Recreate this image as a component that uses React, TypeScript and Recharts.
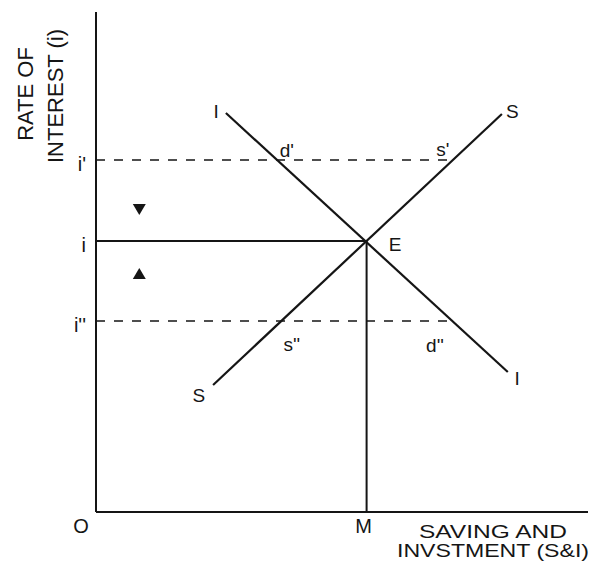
import React from 'react';
import { ComposedChart, Line, XAxis, YAxis, Scatter } from 'recharts';

const FONT = '"Liberation Sans", Arial, Helvetica, sans-serif';
const INK = '#151515';

// Schedules (chart units, 0-100 on both axes)
const investmentCurve = [
  { x: 26.4, y: 79.8 },
  { x: 83.7, y: 28.0 },
];
const savingCurve = [
  { x: 23.8, y: 25.4 },
  { x: 82.5, y: 79.6 },
];
const highRateLine = [
  { x: 0, y: 70.4 },
  { x: 72.5, y: 70.4 },
];
const equilibriumRateLine = [
  { x: 0, y: 54.2 },
  { x: 55, y: 54.2 },
];
const lowRateLine = [
  { x: 0, y: 38.2 },
  { x: 72.4, y: 38.2 },
];
const equilibriumOutputLine = [
  { x: 55, y: 0 },
  { x: 55, y: 54.2 },
];
const fallArrow = [{ x: 8.8, y: 60.6 }];
const riseArrow = [{ x: 8.8, y: 47.6 }];

// Tick labels
const yTicks = [38.2, 54.2, 70.4];
const yTickLabels = ["i''", 'i', "i'"];
const xTicks = [0, 55];
const xTickLabels = ['O', 'M'];

// Curve / point annotations
const curveLabels = [
  { text: 'I', x: 24.4, y: 80.2 },
  { text: 'S', x: 84.6, y: 80.2 },
  { text: "d'", x: 38.8, y: 72.4 },
  { text: "s'", x: 70.5, y: 72.6 },
  { text: 'E', x: 60.8, y: 53.6 },
  { text: "s''", x: 39.8, y: 33.6 },
  { text: "d''", x: 68.9, y: 33.4 },
  { text: 'S', x: 20.9, y: 23.4 },
  { text: 'I', x: 85.6, y: 26.8 },
];

const yAxisTitle = ['RATE OF', 'INTEREST (i)'];
const xAxisTitle = ['SAVING AND', 'INVSTMENT (S&I)'];

const YTick = (props: any) => {
  const { x, y, payload } = props;
  const idx = yTicks.indexOf(payload.value);
  return (
    <text x={x - 10} y={y + 11} textAnchor="end" fontSize={20} fontFamily={FONT} fill={INK}>
      {idx >= 0 ? yTickLabels[idx] : ''}
    </text>
  );
};

const XTick = (props: any) => {
  const { x, y, payload } = props;
  const idx = xTicks.indexOf(payload.value);
  const dx = payload.value === 0 ? -15 : -3;
  return (
    <text x={x + dx} y={y + 21} textAnchor="middle" fontSize={20} fontFamily={FONT} fill={INK}>
      {idx >= 0 ? xTickLabels[idx] : ''}
    </text>
  );
};

const renderYTitle = (props: any) => {
  const vb = props.viewBox || { x: 0, y: 4 };
  const x0 = vb.x;
  const items = [
    { t: yAxisTitle[0], cx: x0 + 17, cy: 86 },
    { t: yAxisTitle[1], cx: x0 + 47, cy: 88 },
  ];
  return (
    <g>
      {items.map((it, i) => (
        <text
          key={i}
          x={it.cx}
          y={it.cy}
          textAnchor="middle"
          dominantBaseline="central"
          transform={`rotate(-90, ${it.cx}, ${it.cy})`}
          fontSize={22}
          fontFamily={FONT}
          fill={INK}
        >
          {it.t}
        </text>
      ))}
    </g>
  );
};

const renderXTitle = (props: any) => {
  const vb = props.viewBox || { x: 88, y: 504 };
  const baseY = vb.y;
  return (
    <g>
      <text
        x={485}
        y={baseY + 26}
        textAnchor="middle"
        fontSize={18.5}
        textLength={148}
        lengthAdjust="spacingAndGlyphs"
        fontFamily={FONT}
        fill={INK}
      >
        {xAxisTitle[0]}
      </text>
      <text
        x={485}
        y={baseY + 45}
        textAnchor="middle"
        fontSize={18.5}
        textLength={192}
        lengthAdjust="spacingAndGlyphs"
        fontFamily={FONT}
        fill={INK}
      >
        {xAxisTitle[1]}
      </text>
    </g>
  );
};

const LabelShape = (props: any) => {
  const { cx, cy, payload } = props;
  return (
    <text x={cx} y={cy} textAnchor="middle" dominantBaseline="central" fontSize={19} fontFamily={FONT} fill={INK}>
      {payload.text}
    </text>
  );
};

const DownTriangle = (props: any) => {
  const { cx, cy } = props;
  return <polygon points={`${cx - 6.5},${cy - 5} ${cx + 6.5},${cy - 5} ${cx},${cy + 6}`} fill={INK} />;
};

const UpTriangle = (props: any) => {
  const { cx, cy } = props;
  return <polygon points={`${cx - 6.5},${cy + 5} ${cx + 6.5},${cy + 5} ${cx},${cy - 6}`} fill={INK} />;
};

export default function App() {
  return (
    <div style={{ width: 584, height: 553 }}>
      <ComposedChart width={584} height={553} margin={{ top: 4, right: 4, bottom: 0, left: 0 }}>
        <XAxis
          type="number"
          dataKey="x"
          domain={[0, 100]}
          ticks={xTicks}
          tick={<XTick />}
          tickLine={false}
          tickSize={0}
          tickMargin={0}
          height={49}
          axisLine={{ stroke: INK, strokeWidth: 2 }}
          label={renderXTitle}
          interval={0}
        />
        <YAxis
          type="number"
          dataKey="y"
          domain={[0, 100]}
          ticks={yTicks}
          tick={<YTick />}
          tickLine={false}
          tickSize={0}
          tickMargin={0}
          width={88}
          axisLine={{ stroke: INK, strokeWidth: 2 }}
          label={renderYTitle}
          interval={0}
        />
        <Line data={highRateLine} dataKey="y" type="linear" stroke={INK} strokeWidth={1.6} strokeDasharray="9 9" dot={false} activeDot={false} isAnimationActive={false} />
        <Line data={lowRateLine} dataKey="y" type="linear" stroke={INK} strokeWidth={1.6} strokeDasharray="9 9" dot={false} activeDot={false} isAnimationActive={false} />
        <Line data={equilibriumRateLine} dataKey="y" type="linear" stroke={INK} strokeWidth={2} dot={false} activeDot={false} isAnimationActive={false} />
        <Line data={equilibriumOutputLine} dataKey="y" type="linear" stroke={INK} strokeWidth={2} dot={false} activeDot={false} isAnimationActive={false} />
        <Line data={investmentCurve} dataKey="y" type="linear" stroke={INK} strokeWidth={2.2} dot={false} activeDot={false} isAnimationActive={false} />
        <Line data={savingCurve} dataKey="y" type="linear" stroke={INK} strokeWidth={2.2} dot={false} activeDot={false} isAnimationActive={false} />
        <Scatter data={fallArrow} dataKey="y" shape={<DownTriangle />} isAnimationActive={false} />
        <Scatter data={riseArrow} dataKey="y" shape={<UpTriangle />} isAnimationActive={false} />
        <Scatter data={curveLabels} dataKey="y" shape={<LabelShape />} isAnimationActive={false} />
      </ComposedChart>
    </div>
  );
}
